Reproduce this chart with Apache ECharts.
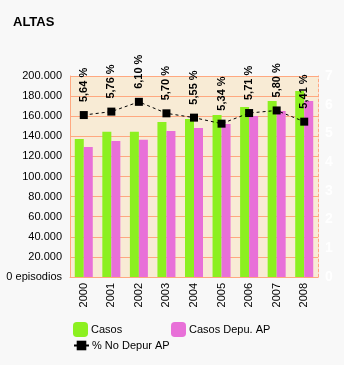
<!DOCTYPE html>
<html>
<head>
<meta charset="utf-8">
<script src="https://cdn.jsdelivr.net/npm/echarts@6/dist/echarts.min.js"></script>
<style>
html,body{margin:0;padding:0;background:#F8F8F8;}
#c{width:344px;height:365px;}
</style>
</head>
<body>
<div id="c"></div>
<script>
const years = ['2000','2001','2002','2003','2004','2005','2006','2007','2008'];
const casos = [137300, 144600, 144600, 154200, 157200, 161200, 169200, 175100, 185100];
const casosDepu = [129400, 135300, 136600, 145300, 148300, 152200, 160200, 165200, 175100];
const pctNoDepur = [5.64, 5.76, 6.10, 5.70, 5.55, 5.34, 5.71, 5.80, 5.41];
const leftTicks = [0, 20000, 40000, 60000, 80000, 100000, 120000, 140000, 160000, 180000, 200000];
const rightTicks = [0, 1, 2, 3, 4, 5, 6, 7];

const FONT = "'Liberation Sans', Arial, sans-serif";
const chart = echarts.init(document.getElementById('c'), null, {renderer: 'canvas'});
function fmtThousands(v) {
  if (v === 0) return '0 episodios';
  return String(v).replace(/\B(?=(\d{3})+(?!\d))/g, '.');
}
chart.setOption({
  animation: false,
  backgroundColor: '#F8F8F8',
  textStyle: {fontFamily: FONT},
  title: {
    text: 'ALTAS', left: 8, top: 11,
    textStyle: {fontSize: 13, fontWeight: 'bold', color: '#000', fontFamily: FONT}
  },
  legend: [
    {data: ['Casos'], left: 73, top: 322, itemWidth: 15, itemHeight: 15, padding: 0,
     textStyle: {fontSize: 11, color: '#000', fontFamily: FONT, padding: [0,0,0,-2]}},
    {data: ['Casos Depu. AP'], left: 171, top: 322, itemWidth: 15, itemHeight: 15, padding: 0,
     textStyle: {fontSize: 11, color: '#000', fontFamily: FONT, padding: [0,0,0,-2]}},
    {data: ['% No Depur AP'], left: 73, top: 340, itemWidth: 15, itemHeight: 12, padding: 0,
     textStyle: {fontSize: 11, color: '#000', fontFamily: FONT, padding: [0,0,0,-2]}}
  ],
  grid: {left: 70, right: 26, top: 76, bottom: 88, show: true, backgroundColor: '#F8EBD5', borderWidth: 0},
  xAxis: {
    type: 'category', data: years,
    axisLine: {show: true, lineStyle: {color: '#FFA880', type: [3, 2], width: 1}},
    axisTick: {show: false},
    axisLabel: {rotate: 90, fontSize: 11, color: '#000', margin: 6, fontFamily: FONT}
  },
  yAxis: [
    {
      type: 'value', min: 0, max: 200000, interval: 20000,
      axisLine: {show: true, lineStyle: {color: '#FFA880'}},
      axisTick: {show: false},
      splitLine: {show: true, lineStyle: {color: '#FFA880', width: 1}},
      axisLabel: {fontSize: 11, color: '#000', margin: 8, fontFamily: FONT, formatter: fmtThousands}
    },
    {
      type: 'value', min: 0, max: 7, interval: 1, position: 'right',
      axisLine: {show: true, lineStyle: {color: '#FFA880', type: [3, 2]}},
      axisTick: {show: false},
      splitLine: {show: false},
      axisLabel: {fontSize: 14, fontWeight: 'bold', color: '#FFFFFF', margin: 7, fontFamily: FONT}
    }
  ],
  series: [
    {name: 'Casos', type: 'bar', data: casos, barWidth: 9, barGap: '0%',
     itemStyle: {color: '#8CF020'}},
    {name: 'Casos Depu. AP', type: 'bar', data: casosDepu, barWidth: 9,
     itemStyle: {color: '#E870D8'}},
    {name: '% No Depur AP', type: 'line', yAxisIndex: 1, data: pctNoDepur,
     symbol: 'rect', symbolSize: 8,
     itemStyle: {color: '#000'},
     lineStyle: {color: '#000', width: 1, type: [3, 3]},
     label: {show: true, position: 'top', distance: 9, rotate: 90, align: 'left', verticalAlign: 'middle',
       fontSize: 11, fontWeight: 'bold', color: '#000', fontFamily: FONT,
       formatter: p => p.value.toFixed(2).replace('.', ',') + ' %'}
    }
  ]
});
</script>
</body>
</html>
